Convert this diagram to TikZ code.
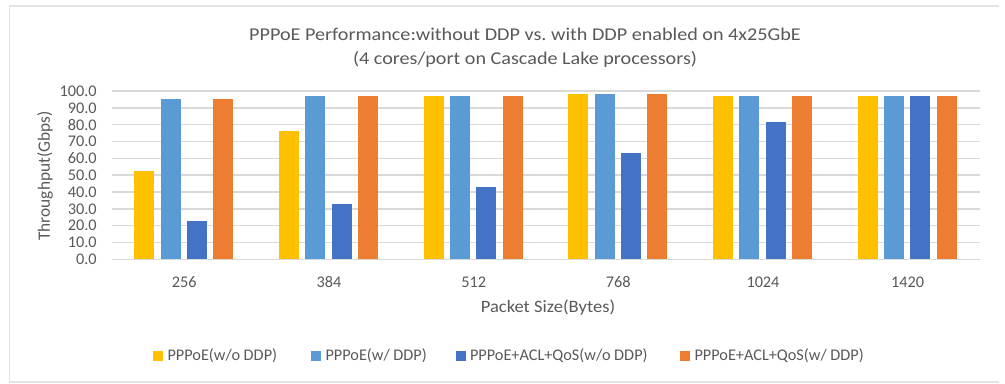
\documentclass[tikz,border=0pt]{standalone}
\usepackage{fontspec}
\setmainfont{Carlito}
\usepackage{tikz}
\usetikzlibrary{positioning}

\definecolor{wodYellow}{HTML}{FFC000}
\definecolor{wdLightBlue}{HTML}{5B9BD5}
\definecolor{aclBlue}{HTML}{4472C4}
\definecolor{aclOrange}{HTML}{ED7D31}
\definecolor{axisText}{HTML}{595959}
\definecolor{gridGray}{HTML}{D9D9D9}

\begin{document}
\begin{tikzpicture}[x=0.75pt, y=-0.75pt,
  lbl/.style={text=axisText, inner sep=0pt, font=\fontsize{12.2}{14}\selectfont},
  ttl/.style={text=axisText, inner sep=0pt, font=\fontsize{13.5}{16}\selectfont},
  axttl/.style={text=axisText, inner sep=0pt, font=\fontsize{13}{15}\selectfont},
  gridline/.style={draw=gridGray, line width=1.1pt},
  key/.style={minimum size=7.5pt, inner sep=0pt}]
  \useasboundingbox (0,0) rectangle (1005,383);
  \draw[gridGray!70, line width=0.9pt] (999,6) -- (9.5,6) -- (9.5,382) -- (999,382);
  % titles
  \node[ttl] (title) at (525,34) {\scalebox{1.12}[1]{PPPoE Performance:without DDP vs.\ with DDP enabled on 4x25GbE}};
  \node[ttl] (subtitle) at (525,59) {\scalebox{1.12}[1]{(4 cores/port on Cascade Lake processors)}};
  % grid and y ticks
  \foreach \v in {0,10,...,100} {
    \pgfmathsetmacro{\yy}{259.3-1.683*\v}
    \draw[gridline] (112,\yy) -- (980,\yy);
    \node[lbl, anchor=east] (tick\v) at (97,\yy) {\v.0};
  }
  \node[axttl, rotate=90] (ytitle) at (45,176) {Throughput(Gbps)};
  % bars
  \foreach \a/\b/\c/\d/\size [count=\g from 0] in
      {52.5/95/23/95/256, 76/97/33/97/384, 97/97/43/97/512,
       98/98/63/98/768, 97/97/81.5/97/1024, 97/97/97/97/1420} {
    \pgfmathsetmacro{\barleft}{112+144.67*\g+22.3}
    \foreach \val/\col [count=\k from 0] in {\a/wodYellow, \b/wdLightBlue, \c/aclBlue, \d/aclOrange} {
      \pgfmathsetmacro{\xa}{\barleft+26.3*\k}
      \pgfmathsetmacro{\bartop}{259.3-1.683*\val}
      \fill[\col] (\xa,259.3) rectangle ({\xa+20},\bartop);
    }
    \node[lbl] (cat\g) at ({112+144.67*\g+72.3},282) {\size};
  }
  \node[axttl] (xtitle) at (548,308) {\scalebox{1.07}[1]{Packet Size(Bytes)}};
  % legend
  \node[key, fill=wodYellow] (k1) at (158,356) {};
  \node[lbl, right=3pt of k1] (t1) {PPPoE(w/o DDP)};
  \node[key, fill=wdLightBlue] (k2) at (316,356) {};
  \node[lbl, right=3pt of k2] (t2) {PPPoE(w/ DDP)};
  \node[key, fill=aclBlue] (k3) at (460.5,356) {};
  \node[lbl, right=3pt of k3] (t3) {PPPoE+ACL+QoS(w/o DDP)};
  \node[key, fill=aclOrange] (k4) at (685,356) {};
  \node[lbl, right=3pt of k4] (t4) {PPPoE+ACL+QoS(w/ DDP)};
\end{tikzpicture}
\end{document}
